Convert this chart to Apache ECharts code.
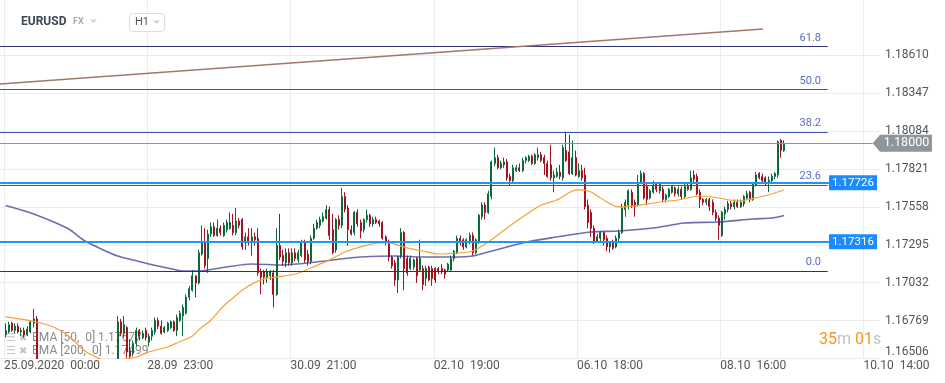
<!DOCTYPE html>
<html><head><meta charset="utf-8">
<script src="https://cdn.jsdelivr.net/npm/echarts@6/dist/echarts.min.js"></script>
<style>html,body{margin:0;padding:0;background:#fff}#c{width:945px;height:383px}</style>
</head><body><div id="c"></div>
<script>
// ---------- DATA ----------
const yTicks = [1.16506, 1.16769, 1.17032, 1.17295, 1.17558, 1.17821, 1.18084, 1.18347, 1.18610];
const xTickBars = [0, 46, 92, 138, 184, 230, 276];
const xTickLabels = ['25.09.2020  00:00', '28.09  23:00', '30.09  21:00', '02.10  19:00', '06.10  18:00', '08.10  16:00', '10.10  14:00'];
// hourly candles: [open, close, low, high]
const candles = [
[1.1667,1.1670,1.1665,1.1675],[1.1669,1.1674,1.1668,1.1676],[1.1675,1.1670,1.1669,1.1676],[1.1670,1.1673,1.1668,1.1675],[1.1673,1.1669,1.1668,1.1675],
[1.1669,1.1670,1.1666,1.1672],[1.1670,1.1667,1.1665,1.1672],[1.1667,1.1671,1.1666,1.1673],[1.1669,1.1676,1.1668,1.1677],[1.1675,1.1678,1.1672,1.1685],
[1.1678,1.1648,1.1644,1.1680],[1.1648,1.1638,1.1634,1.1650],[1.1638,1.1630,1.1626,1.1641],[1.1630,1.1622,1.1618,1.1633],[1.1622,1.1616,1.1612,1.1625],
[1.1616,1.1621,1.1613,1.1624],[1.1621,1.1626,1.1618,1.1629],[1.1626,1.1623,1.1619,1.1630],[1.1623,1.1629,1.1621,1.1632],[1.1629,1.1633,1.1626,1.1636],
[1.1633,1.1630,1.1627,1.1637],[1.1630,1.1632,1.1628,1.1635],[1.1631,1.1628,1.1624,1.1634],[1.1628,1.1630,1.1625,1.1632],[1.1630,1.1627,1.1623,1.1633],
[1.1627,1.1632,1.1625,1.1635],[1.1632,1.1636,1.1629,1.1639],[1.1636,1.1633,1.1630,1.1640],[1.1633,1.1638,1.1631,1.1641],[1.1638,1.1642,1.1635,1.1645],
[1.1642,1.1639,1.1636,1.1646],[1.1639,1.1643,1.1637,1.1647],[1.1643,1.1640,1.1637,1.1646],[1.1640,1.1644,1.1638,1.1647],[1.1644,1.1641,1.1638,1.1648],
[1.1641,1.1646,1.1639,1.1649],[1.1646,1.1676,1.1644,1.1680],[1.1676,1.1668,1.1666,1.1678],[1.1668,1.1674,1.1665,1.1680],[1.1672,1.1655,1.1651,1.1673],
[1.1656,1.1652,1.1649,1.1664],[1.1654,1.1661,1.1652,1.1663],[1.1661,1.1670,1.1659,1.1672],[1.1670,1.1666,1.1663,1.1671],[1.1665,1.1668,1.1664,1.1670],
[1.1670,1.1665,1.1663,1.1672],[1.1662,1.1666,1.1659,1.1668],[1.1666,1.1670,1.1663,1.1672],[1.1669,1.1677,1.1667,1.1679],[1.1677,1.1673,1.1671,1.1679],
[1.1673,1.1668,1.1667,1.1677],[1.1669,1.1672,1.1668,1.1673],[1.1670,1.1675,1.1669,1.1676],[1.1672,1.1676,1.1671,1.1677],[1.1676,1.1670,1.1669,1.1677],
[1.1670,1.1679,1.1666,1.1681],[1.1677,1.1682,1.1676,1.1684],[1.1680,1.1686,1.1666,1.1688],[1.1682,1.1693,1.1681,1.1695],[1.1693,1.1699,1.1691,1.1701],
[1.1698,1.1708,1.1697,1.1712],[1.1708,1.1703,1.1693,1.1708],[1.1703,1.1724,1.1702,1.1726],[1.1723,1.1731,1.1722,1.1743],[1.1731,1.1715,1.1713,1.1741],
[1.1720,1.1737,1.1710,1.1740],[1.1737,1.1742,1.1735,1.1745],[1.1742,1.1736,1.1735,1.1745],[1.1736,1.1741,1.1735,1.1747],[1.1741,1.1738,1.1736,1.1743],
[1.1736,1.1743,1.1735,1.1745],[1.1740,1.1745,1.1738,1.1747],[1.1741,1.1745,1.1740,1.1752],[1.1743,1.1738,1.1736,1.1751],[1.1738,1.1746,1.1736,1.1755],
[1.1746,1.1743,1.1741,1.1748],[1.1747,1.1728,1.1726,1.1748],[1.1731,1.1735,1.1726,1.1738],[1.1735,1.1731,1.1729,1.1741],[1.1731,1.1735,1.1722,1.1741],
[1.1735,1.1733,1.1729,1.1738],[1.1734,1.1710,1.1708,1.1741],[1.1711,1.1707,1.1695,1.1713],[1.1711,1.1707,1.1702,1.1712],[1.1707,1.1711,1.1703,1.1713],
[1.1708,1.1711,1.1705,1.1712],[1.1710,1.1695,1.1686,1.1712],[1.1695,1.1729,1.1694,1.1741],[1.1729,1.1721,1.1719,1.1751],[1.1722,1.1718,1.1715,1.1726],
[1.1717,1.1724,1.1714,1.1727],[1.1724,1.1717,1.1715,1.1727],[1.1717,1.1724,1.1715,1.1727],[1.1724,1.1720,1.1718,1.1727],[1.1719,1.1724,1.1717,1.1726],
[1.1722,1.1731,1.1721,1.1733],[1.1731,1.1719,1.1717,1.1733],[1.1723,1.1718,1.1715,1.1726],[1.1718,1.1734,1.1716,1.1736],[1.1734,1.1741,1.1733,1.1744],
[1.1741,1.1745,1.1740,1.1747],[1.1743,1.1747,1.1741,1.1749],[1.1746,1.1749,1.1745,1.1752],[1.1748,1.1754,1.1747,1.1757],[1.1754,1.1736,1.1733,1.1756],
[1.1740,1.1724,1.1723,1.1751],[1.1726,1.1747,1.1724,1.1748],[1.1747,1.1743,1.1740,1.1750],[1.1743,1.1763,1.1741,1.1769],[1.1763,1.1754,1.1752,1.1766],
[1.1755,1.1740,1.1729,1.1757],[1.1740,1.1737,1.1736,1.1743],[1.1738,1.1752,1.1736,1.1753],[1.1752,1.1744,1.1742,1.1754],[1.1745,1.1739,1.1734,1.1747],
[1.1740,1.1747,1.1738,1.1748],[1.1747,1.1750,1.1745,1.1754],[1.1750,1.1744,1.1742,1.1751],[1.1744,1.1747,1.1742,1.1749],[1.1747,1.1745,1.1744,1.1749],
[1.1746,1.1744,1.1742,1.1747],[1.1745,1.1734,1.1733,1.1746],[1.1735,1.1731,1.1729,1.1736],[1.1731,1.1721,1.1718,1.1733],[1.1721,1.1715,1.1713,1.1722],
[1.1717,1.1705,1.1701,1.1719],[1.1705,1.1721,1.1696,1.1722],[1.1722,1.1738,1.1720,1.1741],[1.1738,1.1713,1.1698,1.1739],[1.1720,1.1710,1.1708,1.1722],
[1.1713,1.1720,1.1712,1.1722],[1.1714,1.1719,1.1712,1.1720],[1.1720,1.1708,1.1703,1.1721],[1.1712,1.1720,1.1711,1.1733],[1.1713,1.1702,1.1698,1.1715],
[1.1706,1.1713,1.1701,1.1715],[1.1714,1.1705,1.1704,1.1715],[1.1713,1.1706,1.1701,1.1715],[1.1713,1.1705,1.1703,1.1714],[1.1713,1.1711,1.1709,1.1714],
[1.1713,1.1711,1.1709,1.1716],[1.1712,1.1709,1.1706,1.1713],[1.1712,1.1716,1.1711,1.1717],[1.1712,1.1720,1.1711,1.1722],[1.1720,1.1725,1.1718,1.1726],
[1.1724,1.1734,1.1723,1.1736],[1.1734,1.1731,1.1729,1.1736],[1.1733,1.1728,1.1726,1.1734],[1.1728,1.1733,1.1727,1.1734],[1.1731,1.1736,1.1730,1.1738],
[1.1736,1.1724,1.1722,1.1738],[1.1724,1.1733,1.1723,1.1734],[1.1731,1.1750,1.1730,1.1751],[1.1749,1.1757,1.1747,1.1759],[1.1757,1.1752,1.1747,1.1759],
[1.1752,1.1765,1.1751,1.1767],[1.1763,1.1787,1.1761,1.1788],[1.1786,1.1790,1.1784,1.1797],[1.1790,1.1783,1.1782,1.1792],[1.1783,1.1786,1.1782,1.1788],
[1.1785,1.1787,1.1783,1.1790],[1.1787,1.1776,1.1774,1.1789],[1.1777,1.1774,1.1771,1.1779],[1.1774,1.1783,1.1773,1.1785],[1.1781,1.1783,1.1780,1.1785],
[1.1783,1.1781,1.1780,1.1786],[1.1781,1.1788,1.1780,1.1790],[1.1788,1.1790,1.1786,1.1791],[1.1788,1.1791,1.1787,1.1792],[1.1791,1.1786,1.1785,1.1792],
[1.1786,1.1792,1.1785,1.1793],[1.1790,1.1792,1.1788,1.1797],[1.1792,1.1788,1.1787,1.1794],[1.1790,1.1786,1.1778,1.1792],[1.1786,1.1777,1.1776,1.1788],
[1.1785,1.1776,1.1774,1.1799],[1.1776,1.1778,1.1766,1.1781],[1.1777,1.1780,1.1776,1.1783],[1.1780,1.1777,1.1775,1.1785],[1.1776,1.1797,1.1774,1.1799],
[1.1795,1.1788,1.1787,1.1808],[1.1794,1.1779,1.1778,1.1806],[1.1779,1.1790,1.1778,1.1802],[1.1790,1.1778,1.1777,1.1795],[1.1777,1.1781,1.1776,1.1786],
[1.1781,1.1776,1.1774,1.1785],[1.1778,1.1756,1.1754,1.1783],[1.1757,1.1745,1.1741,1.1761],[1.1752,1.1741,1.1735,1.1754],[1.1741,1.1732,1.1730,1.1743],
[1.1732,1.1735,1.1731,1.1737],[1.1734,1.1738,1.1731,1.1739],[1.1738,1.1733,1.1729,1.1739],[1.1734,1.1728,1.1725,1.1736],[1.1728,1.1731,1.1724,1.1732],
[1.1731,1.1727,1.1726,1.1733],[1.1728,1.1734,1.1727,1.1736],[1.1734,1.1738,1.1732,1.1740],[1.1738,1.1755,1.1737,1.1758],[1.1754,1.1759,1.1749,1.1761],
[1.1757,1.1767,1.1754,1.1768],[1.1766,1.1757,1.1755,1.1768],[1.1759,1.1756,1.1749,1.1761],[1.1757,1.1773,1.1756,1.1778],[1.1773,1.1779,1.1772,1.1781],
[1.1779,1.1762,1.1761,1.1780],[1.1770,1.1761,1.1757,1.1772],[1.1762,1.1767,1.1761,1.1768],[1.1766,1.1771,1.1765,1.1774],[1.1772,1.1768,1.1766,1.1773],
[1.1767,1.1772,1.1765,1.1773],[1.1768,1.1761,1.1759,1.1770],[1.1761,1.1764,1.1759,1.1765],[1.1763,1.1768,1.1762,1.1769],[1.1766,1.1770,1.1765,1.1771],
[1.1769,1.1765,1.1763,1.1770],[1.1765,1.1768,1.1763,1.1770],[1.1768,1.1763,1.1761,1.1770],[1.1763,1.1770,1.1762,1.1772],[1.1770,1.1768,1.1767,1.1772],
[1.1768,1.1776,1.1767,1.1781],[1.1778,1.1775,1.1773,1.1781],[1.1777,1.1765,1.1764,1.1779],[1.1766,1.1761,1.1755,1.1768],[1.1761,1.1759,1.1757,1.1762],
[1.1759,1.1761,1.1757,1.1762],[1.1761,1.1756,1.1753,1.1762],[1.1759,1.1752,1.1750,1.1761],[1.1752,1.1748,1.1746,1.1754],[1.1748,1.1743,1.1733,1.1750],
[1.1736,1.1752,1.1735,1.1753],[1.1751,1.1754,1.1747,1.1756],[1.1754,1.1758,1.1752,1.1760],[1.1758,1.1756,1.1754,1.1760],[1.1756,1.1759,1.1754,1.1761],
[1.1759,1.1756,1.1755,1.1761],[1.1756,1.1759,1.1755,1.1761],[1.1758,1.1763,1.1756,1.1764],[1.1762,1.1765,1.1761,1.1767],[1.1766,1.1761,1.1759,1.1767],
[1.1761,1.1772,1.1760,1.1773],[1.1771,1.1778,1.1770,1.1780],[1.1779,1.1776,1.1775,1.1780],[1.1777,1.1774,1.1772,1.1779],[1.1776,1.1772,1.1771,1.1777],
[1.1772,1.1774,1.1766,1.1777],[1.1774,1.1777,1.1772,1.1779],[1.1777,1.1779,1.1775,1.1780],[1.1778,1.1801,1.1776,1.1802],[1.1802,1.1795,1.1790,1.1803],
[1.1795,1.1800,1.1794,1.1802]
];
// EMA lines: [bar index, price]
const ema50 = [[0,1.16794],[10,1.16759],[16,1.16717],[21,1.16648],[25,1.16565],[29,1.16516],[33,1.16488],[38,1.16500],[42,1.16516],[46,1.16551],[52,1.16585],[55,1.16613],[60,1.16662],[62,1.16704],[66,1.16773],[70,1.16870],[73,1.16926],[77,1.16995],[82,1.17051],[87,1.17071],[93,1.17092],[98,1.17134],[104,1.17190],[109,1.17245],[114,1.17280],[120,1.17308],[123,1.17308],[129,1.17273],[134,1.17252],[139,1.17231],[145,1.17238],[150,1.17252],[155,1.17315],[161,1.17412],[166,1.17488],[172,1.17571],[177,1.17606],[182,1.17669],[185,1.17676],[188,1.17662],[191,1.17620],[197,1.17558],[204,1.17571],[210,1.17592],[216,1.17606],[223,1.17634],[229,1.17620],[235,1.17599],[242,1.17627],[246,1.17648],[250,1.17677]];
const ema200 = [[0,1.17568],[9,1.17509],[20,1.17408],[25,1.17328],[30,1.17273],[36,1.17217],[41,1.17190],[46,1.17162],[52,1.17134],[57,1.17113],[62,1.17113],[71,1.17141],[79,1.17162],[89,1.17155],[100,1.17176],[109,1.17200],[114,1.17210],[125,1.17217],[134,1.17210],[145,1.17210],[150,1.17217],[155,1.17245],[166,1.17308],[177,1.17349],[188,1.17384],[197,1.17391],[208,1.17412],[218,1.17446],[229,1.17453],[240,1.17474],[246,1.17481],[250,1.17499]];
const fibLevels = ['0.0', '23.6', '38.2', '50.0', '61.8'];
const fibPrices = [1.17113, 1.17710, 1.18079, 1.18375, 1.18673];
const levelPrices = [1.17726, 1.17316];
const lastPrice = 1.18000;
const trendLine = [[-1.28, 1.18412], [243.7, 1.18794]];
const legendTexts = ['EMA [50,  0] 1.17677', 'EMA [200,  0] 1.17499'];
const countdown = ['35', 'm', '01', 's'];

// ---------- LAYOUT ----------
const FONT = 'Roboto, "Noto Sans", sans-serif';
const X_MIN = -1.2843, X_MAX = 281.27;
const Y_MIN = 1.16506, Y_MAX = 1.18995;
const FIB_END = 264.5, LEVEL_END = 264.9, PRICE_END = 278.9;

const chart = echarts.init(document.getElementById('c'), null, {renderer: 'canvas'});
const candleData = candles.map((d, i) => [i + 0.5, d[0], d[1], d[2], d[3]]);
const toXY = arr => arr.map(([i, p]) => [i + 0.5, p]);

const fibColors = ['#2c3275', '#3f51b5', '#3f51b5', '#3f51b5', '#2c3275'];
const markData = [];
fibPrices.forEach((p, k) => markData.push([{coord: [X_MIN + 0.01, p], lineStyle: {color: fibColors[k], width: 1.2, type: 'solid'}}, {coord: [FIB_END, p]}]));
levelPrices.forEach(p => markData.push([{coord: [X_MIN + 0.01, p], lineStyle: {color: '#2196f3', width: 2, type: 'solid'}}, {coord: [LEVEL_END, p]}]));
markData.push([{coord: [X_MIN + 0.01, lastPrice], lineStyle: {color: '#8d9296', width: 1, type: 'solid'}}, {coord: [PRICE_END, lastPrice]}]);
markData.push([{coord: trendLine[0], lineStyle: {color: '#a3756b', width: 1.6, type: 'solid'}}, {coord: trendLine[1]}]);

chart.setOption({
  animation: false,
  backgroundColor: '#fff',
  grid: {left: 0, right: 65, top: 0, bottom: 24.6, containLabel: false, outerBoundsMode: 'none'},
  xAxis: [
    {type: 'value', min: X_MIN, max: X_MAX, position: 'bottom',
     axisLine: {show: false}, axisTick: {show: false, customValues: xTickBars},
     axisLabel: {show: false}, splitLine: {show: true, lineStyle: {color: '#ececec', width: 1}}},
    {type: 'value', min: X_MIN, max: X_MAX, position: 'bottom', z: 10,
     axisLine: {show: false}, axisTick: {show: false, customValues: xTickBars},
     axisLabel: {customValues: xTickBars, align: 'left', margin: 2, color: '#555', fontSize: 12, fontFamily: FONT,
       formatter: v => { const k = xTickBars.indexOf(Math.round(v)); return k >= 0 ? xTickLabels[k] : ''; }},
     splitLine: {show: false}}
  ],
  yAxis: {
    type: 'value', position: 'right', min: Y_MIN, max: Y_MAX,
    axisLine: {show: false}, axisTick: {show: false, customValues: yTicks},
    axisLabel: {customValues: yTicks, formatter: v => v.toFixed(5), color: '#555', fontSize: 12, fontFamily: FONT, margin: 5, verticalAlignMinLabel: 'bottom'},
    splitLine: {show: true, lineStyle: {color: '#ececec', width: 1}}
  },
  series: [
    {type: 'candlestick', xAxisIndex: 0, data: candleData, encode: {x: 0, y: [1, 2, 3, 4]},
     barWidth: 1.5, z: 2,
     itemStyle: {color: '#1e8e5b', color0: '#d52a3c', borderColor: '#0b6a3b', borderColor0: '#a1121f', borderWidth: 1}},
    {type: 'line', xAxisIndex: 0, data: toXY(ema200), showSymbol: false, smooth: 0.3, z: 3,
     lineStyle: {color: 'rgba(52,52,150,0.72)', width: 1.6}},
    {type: 'line', xAxisIndex: 0, data: toXY(ema50), showSymbol: false, smooth: 0.3, z: 3,
     lineStyle: {color: '#f7a035', width: 1.2}},
    {type: 'line', xAxisIndex: 0, data: [], z: 4,
     markLine: {silent: true, symbol: ['none', 'none'], label: {show: false}, lineStyle: {type: 'solid'}, animation: false, data: markData}}
  ]
});

const py = p => chart.convertToPixel({yAxisIndex: 0}, p);
const gfx = [];
// hide parts of candles below the plot
gfx.push({type: 'rect', silent: true, z: 5, shape: {x: 0, y: 359, width: 880, height: 24}, style: {fill: '#fff'}});
// header
gfx.push({type: 'text', z: 20, x: 21, y: 22, style: {text: 'EURUSD', fontSize: 12, fontWeight: 'bold', fontFamily: FONT, fill: '#3d4650', verticalAlign: 'middle'}});
gfx.push({type: 'text', z: 20, x: 73, y: 22, style: {text: 'FX', fontSize: 9, fontWeight: 'bold', fontFamily: FONT, fill: '#a3abb3', verticalAlign: 'middle'}});
gfx.push({type: 'polygon', z: 20, shape: {points: [[90, 19.5], [97, 19.5], [93.5, 23]]}, style: {fill: '#cfd3d7'}});
gfx.push({type: 'rect', z: 20, shape: {x: 129.5, y: 13.5, width: 35, height: 18, r: 3}, style: {fill: '#fff', stroke: '#dcdcdc', lineWidth: 1}});
gfx.push({type: 'text', z: 21, x: 135, y: 22.5, style: {text: 'H1', fontSize: 11, fontFamily: FONT, fill: '#555', verticalAlign: 'middle'}});
gfx.push({type: 'polygon', z: 21, shape: {points: [[153, 20.5], [160, 20.5], [156.5, 24]]}, style: {fill: '#cfd3d7'}});
// fib labels
fibPrices.forEach((p, k) => gfx.push({type: 'text', z: 20, x: 821, y: py(p) - 8.5,
  style: {text: fibLevels[k], align: 'right', verticalAlign: 'middle', fontSize: 11, fontFamily: FONT, fill: '#5c6bc0'}}));
// level boxes
levelPrices.forEach(p => {
  const y = py(p);
  gfx.push({type: 'rect', z: 20, shape: {x: 829, y: y - 7.5, width: 48, height: 15}, style: {fill: '#1a8cff'}});
  gfx.push({type: 'text', z: 21, x: 853, y: y, style: {text: p.toFixed(5), align: 'center', verticalAlign: 'middle', fontSize: 11.5, fontFamily: FONT, fill: '#fff'}});
});
// current price label
{
  const y = py(lastPrice);
  gfx.push({type: 'polygon', z: 20, shape: {points: [[872.7, y], [880, y - 8.4], [932, y - 8.4], [932, y + 8.4], [880, y + 8.4]]}, style: {fill: '#8f9599'}});
  gfx.push({type: 'text', z: 21, x: 906.5, y: y, style: {text: lastPrice.toFixed(5), align: 'center', verticalAlign: 'middle', fontSize: 12.5, fontFamily: FONT, fill: '#fff'}});
}
// legend
[338, 351].forEach((y, k) => {
  gfx.push({type: 'text', z: 1, x: 6, y: y, style: {text: '\u2630', fontSize: 11, fontFamily: '"DejaVu Sans"', fill: '#c4c4c4', verticalAlign: 'middle'}});
  gfx.push({type: 'text', z: 1, x: 19, y: y, style: {text: '\u2716', fontSize: 10, fontFamily: '"DejaVu Sans"', fill: '#c4c4c4', verticalAlign: 'middle'}});
  gfx.push({type: 'text', z: 1, x: 32, y: y, style: {text: legendTexts[k], fontSize: 12, fontFamily: FONT, fill: '#8a8a8a', verticalAlign: 'middle'}});
});
// countdown
gfx.push({type: 'text', z: 20, x: 819, y: 340, style: {
  text: '{o|' + countdown[0] + '}{g|' + countdown[1] + '} {o|' + countdown[2] + '}{g|' + countdown[3] + '}',
  verticalAlign: 'middle', fontSize: 16, fontFamily: FONT,
  rich: {o: {fill: '#f7941d', fontSize: 16, fontFamily: FONT}, g: {fill: '#c2c2c2', fontSize: 16, fontFamily: FONT}}}});

chart.setOption({graphic: gfx});
</script>
</body></html>
